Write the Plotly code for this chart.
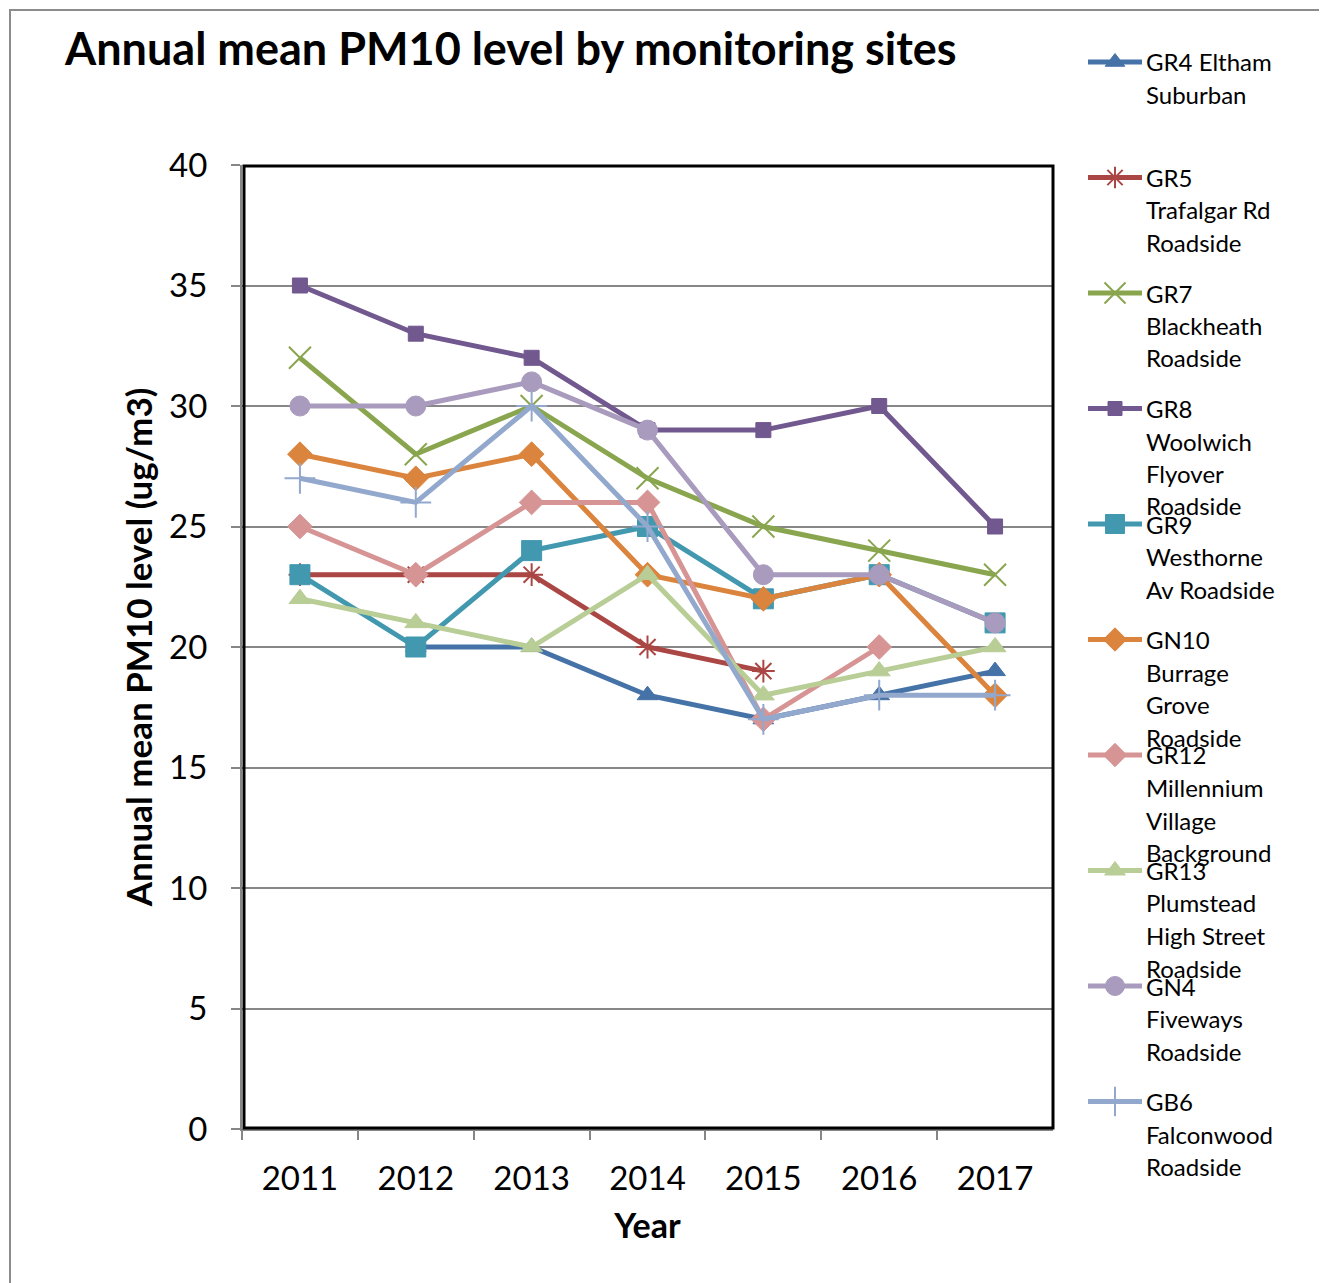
import plotly.graph_objects as go

years = ["2011", "2012", "2013", "2014", "2015", "2016", "2017"]

gr4_eltham = [None, 20, 20, 18, 17, 18, 19]
gr5_trafalgar = [23, 23, 23, 20, 19, None, None]
gr7_blackheath = [32, 28, 30, 27, 25, 24, 23]
gr8_woolwich = [35, 33, 32, 29, 29, 30, 25]
gr9_westhorne = [23, 20, 24, 25, 22, 23, 21]
gn10_burrage = [28, 27, 28, 23, 22, 23, 18]
gr12_millennium = [25, 23, 26, 26, 17, 20, None]
gr13_plumstead = [22, 21, 20, 23, 18, 19, 20]
gn4_fiveways = [30, 30, 31, 29, 23, 23, 21]
gb6_falconwood = [27, 26, 30, 25, 17, 18, 18]

series_names = [
    "GR4 Eltham Suburban",
    "GR5 Trafalgar Rd Roadside",
    "GR7 Blackheath Roadside",
    "GR8 Woolwich Flyover Roadside",
    "GR9 Westhorne Av Roadside",
    "GN10 Burrage Grove Roadside",
    "GR12 Millennium Village Background",
    "GR13 Plumstead High Street Roadside",
    "GN4 Fiveways Roadside",
    "GB6 Falconwood Roadside",
]
legend_lines = [
    ["GR4 Eltham", "Suburban"],
    ["GR5", "Trafalgar Rd", "Roadside"],
    ["GR7", "Blackheath", "Roadside"],
    ["GR8", "Woolwich", "Flyover", "Roadside"],
    ["GR9", "Westhorne", "Av Roadside"],
    ["GN10", "Burrage", "Grove", "Roadside"],
    ["GR12", "Millennium", "Village", "Background"],
    ["GR13", "Plumstead", "High Street", "Roadside"],
    ["GN4", "Fiveways", "Roadside"],
    ["GB6", "Falconwood", "Roadside"],
]
series_values = [gr4_eltham, gr5_trafalgar, gr7_blackheath, gr8_woolwich, gr9_westhorne,
                 gn10_burrage, gr12_millennium, gr13_plumstead, gn4_fiveways, gb6_falconwood]

colors = ["#4572A7", "#AA4643", "#89A54E", "#71588F", "#4198AF",
          "#DB843D", "#D69594", "#B9CD96", "#A99BBD", "#92A8CD"]
symbols = ["triangle-up", "asterisk-open", "x-thin-open", "square", "square",
           "diamond", "diamond", "triangle-up", "circle", "cross-thin-open"]
sizes = [18, 19, 22, 15, 20, 19, 19, 19, 20, 22]

W, H = 1327, 1283
OFF = 8  # page body margin
FONT = "Lato"


def px(x):
    return (x - OFF) / W


def py(y):
    return 1 - (y - OFF) / H


fig = go.Figure()

for name, vals, c, s, sz in zip(series_names, series_values, colors, symbols, sizes):
    open_sym = s.endswith("open")
    fig.add_trace(go.Scatter(
        x=years, y=vals, name=name, mode="lines+markers",
        line=dict(color=c, width=5),
        marker=dict(symbol=s, size=sz, color=c,
                    line=dict(color=c, width=2 if open_sym else 1)),
        connectgaps=False, showlegend=False, cliponaxis=False,
    ))

# manual legend (Excel style, fixed spacing)
annotations = []
first_y = 62
step = 115.5
line_h = 32.5
for i, (lines, c, s, sz) in enumerate(zip(legend_lines, colors, symbols, sizes)):
    yc = first_y + i * step
    open_sym = s.endswith("open")
    fig.add_trace(go.Scatter(
        x=[1088 - OFF, 1142 - OFF], y=[yc - OFF] * 2, mode="lines",
        xaxis="x2", yaxis="y2", showlegend=False, hoverinfo="skip",
        line=dict(color=c, width=5),
    ))
    fig.add_trace(go.Scatter(
        x=[1115 - OFF], y=[yc - OFF], mode="markers",
        xaxis="x2", yaxis="y2", showlegend=False, hoverinfo="skip",
        marker=dict(symbol=s, size=sz - 1, color=c, opacity=1,
                    line=dict(color=c, width=2 if open_sym else 1)),
        cliponaxis=False,
    ))
    for j, t in enumerate(lines):
        annotations.append(dict(
            text=t, xref="paper", yref="paper", x=px(1144), y=py(yc + j * line_h),
            xanchor="left", yanchor="middle", showarrow=False,
            font=dict(family=FONT, size=24, color="black"),
        ))

# title
annotations.append(dict(
    text="<b>Annual mean PM10 level by monitoring sites</b>", xref="paper", yref="paper",
    x=px(62), y=py(48), xanchor="left", yanchor="middle", showarrow=False,
    font=dict(family=FONT, size=45, color="black"),
))

shapes = [
    # black plot border
    dict(type="rect", xref="paper", yref="paper",
         x0=px(244), x1=px(1053), y0=py(1128), y1=py(166),
         line=dict(color="black", width=3), layer="above"),
    # outer chart frame (partially visible)
    dict(type="path", xref="paper", yref="paper",
         path=f"M {px(10)} {py(1300)} L {px(10)} {py(10)} L {px(1340)} {py(10)}",
         line=dict(color="#8C8C8C", width=2)),
]

fig.update_layout(
    width=W, height=H,
    margin=dict(l=0, r=0, t=0, b=0, autoexpand=False),
    paper_bgcolor="white", plot_bgcolor="rgba(0,0,0,0)",
    font=dict(family=FONT, color="black"),
    annotations=annotations, shapes=shapes,
    xaxis=dict(
        domain=[px(242), px(1053)], type="category", tickson="boundaries",
        range=[-0.5, 6.5], showline=True, linecolor="#868686", linewidth=2,
        ticks="outside", ticklen=9, tickcolor="#868686", tickwidth=2,
        tickfont=dict(family=FONT, size=33, color="black"),
        ticklabelstandoff=19,
        showgrid=False, zeroline=False, automargin=False,
        title=dict(text="<b>Year</b>", font=dict(family=FONT, size=34), standoff=19),
        anchor="y",
    ),
    yaxis=dict(
        domain=[py(1129), py(165)], range=[0, 40], dtick=5,
        showline=True, linecolor="#868686", linewidth=2,
        ticks="outside", ticklen=9, tickcolor="#868686", tickwidth=2,
        tickfont=dict(family=FONT, size=33, color="black"),
        showgrid=True, gridcolor="#878787", gridwidth=2, zeroline=False,
        ticklabelstandoff=17, automargin=False,
        title=dict(text="<b>Annual mean PM10 level (ug/m3)</b>", font=dict(family=FONT, size=35), standoff=6),
        anchor="x",
    ),
    xaxis2=dict(domain=[0, 1], range=[0, W], visible=False, anchor="y2", fixedrange=True),
    yaxis2=dict(domain=[0, 1], range=[H, 0], visible=False, anchor="x2", fixedrange=True),
)

fig.write_html("out.html")
